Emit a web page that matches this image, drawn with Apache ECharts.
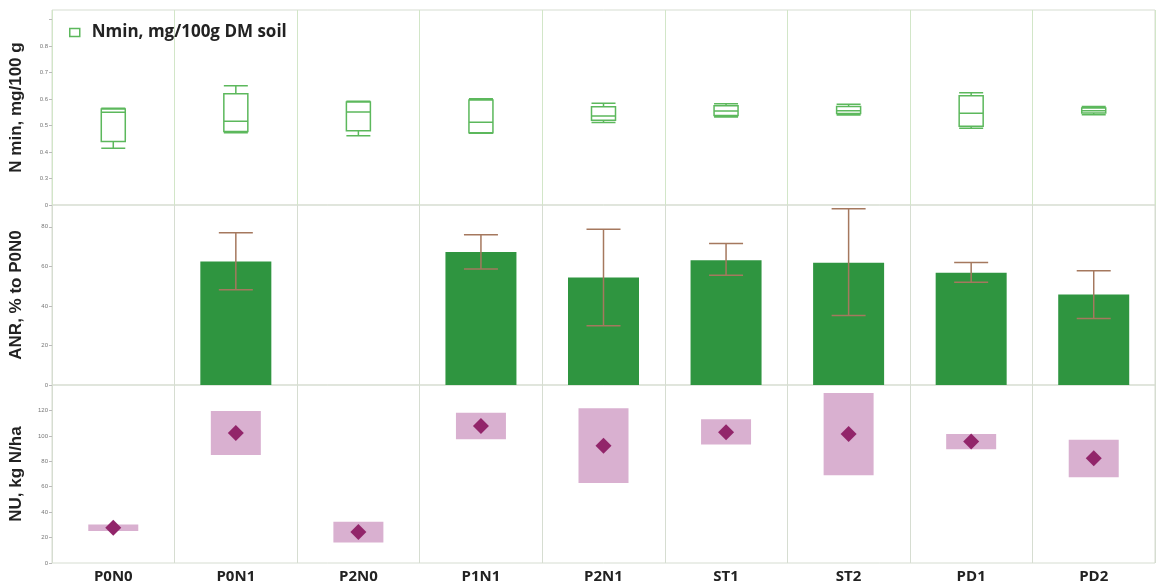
<!DOCTYPE html>
<html>
<head>
<meta charset="utf-8">
<script src="https://cdn.jsdelivr.net/npm/echarts@6/dist/echarts.min.js"></script>
<style>
  html, body { margin: 0; padding: 0; background: #fff; }
  #chart { width: 1157px; height: 587px; }
</style>
</head>
<body>
<div id="chart"></div>
<script>
const categories = ['P0N0', 'P0N1', 'P2N0', 'P1N1', 'P2N1', 'ST1', 'ST2', 'PD1', 'PD2']

// Nmin boxplot: [min, Q1, median, Q3, max]
const nminBox = [
  [0.414, 0.44, 0.55, 0.562, 0.565],
  [0.473, 0.477, 0.516, 0.62, 0.65],
  [0.461, 0.48, 0.551, 0.589, 0.592],
  [0.471, 0.473, 0.512, 0.596, 0.601],
  [0.511, 0.52, 0.536, 0.571, 0.584],
  [0.532, 0.538, 0.555, 0.575, 0.582],
  [0.54, 0.545, 0.556, 0.572, 0.58],
  [0.49, 0.497, 0.546, 0.612, 0.624],
  [0.541, 0.547, 0.556, 0.566, 0.572]
]

// ANR, % to P0N0
const anrMean = ['-', 62.4, '-', 67.2, 54.3, 63.1, 61.8, 56.7, 45.7]
const anrLow = ['-', 48.1, '-', 58.6, 30, 55.5, 35.1, 52, 33.6]
const anrHigh = ['-', 77, '-', 75.9, 78.8, 71.5, 89.1, 61.9, 57.8]

// NU, kg N/ha
const nuMean = [27.7, 102.2, 24.3, 107.7, 92.3, 102.9, 101.4, 95.6, 82.3]
const nuLow = [25.1, 84.9, 16.2, 97.3, 63, 93.3, 69, 89.4, 67.4]
const nuHigh = [30.3, 119.5, 32.4, 118.2, 121.8, 113.1, 133.8, 101.4, 97]

const boxGreen = '#5cb85c'
const barGreen = '#2f9540'
const errColor = '#a5785e'
const pink = '#d9b0d0'
const purple = '#92256a'
const gridLine = '#d6ddd1'

const chart = echarts.init(document.getElementById('chart'))

const yTick = { show: true, length: 3, lineStyle: { color: '#bbb' } }
const yLabel = { fontSize: 6, color: '#777', margin: 4 }
const yName = { fontFamily: 'Liberation Sans', fontWeight: 'bold', fontSize: 17, color: '#222' }

const xBase = (idx, showLabel, splitColor) => ({
  type: 'category',
  gridIndex: idx,
  data: categories,
  boundaryGap: true,
  axisLine: { show: false },
  axisTick: { show: false },
  axisLabel: showLabel
    ? { show: true, fontFamily: 'Open Sans', fontWeight: 'bold', fontSize: 15, color: '#222', margin: 6 }
    : { show: false },
  splitLine: { show: true, lineStyle: { color: splitColor, width: 1 } }
})

const errorBar = (params, api) => {
  const lo = api.value(1)
  const hi = api.value(2)
  if (isNaN(lo) || isNaN(hi)) return
  const pLo = api.coord([api.value(0), lo])
  const pHi = api.coord([api.value(0), hi])
  const half = 17
  const style = { stroke: errColor, lineWidth: 1.5 }
  return {
    type: 'group',
    children: [
      { type: 'line', shape: { x1: pLo[0], y1: pLo[1], x2: pHi[0], y2: pHi[1] }, style },
      { type: 'line', shape: { x1: pHi[0] - half, y1: pHi[1], x2: pHi[0] + half, y2: pHi[1] }, style },
      { type: 'line', shape: { x1: pLo[0] - half, y1: pLo[1], x2: pLo[0] + half, y2: pLo[1] }, style }
    ]
  }
}

const option = {
  animation: false,
  backgroundColor: '#fff',
  legend: {
    left: 64,
    top: 19,
    itemWidth: 10,
    itemHeight: 8,
    itemGap: 10,
    textStyle: { fontFamily: 'Open Sans', fontWeight: 'bold', fontSize: 17, color: '#222', padding: [0, 0, 0, 7] },
    data: [{ name: 'Nmin, mg/100g DM soil', icon: 'rect', itemStyle: { color: '#fff', borderColor: boxGreen, borderWidth: 1.5 } }]
  },
  grid: [
    { left: 48, right: 2, top: 10, height: 195, show: true, borderColor: gridLine, borderWidth: 1 },
    { left: 48, right: 2, top: 205, height: 180, show: true, borderColor: gridLine, borderWidth: 1 },
    { left: 48, right: 2, top: 385, height: 178, show: true, borderColor: gridLine, borderWidth: 1 }
  ],
  xAxis: [
    xBase(0, false, '#d2e6c8'),
    xBase(1, false, gridLine),
    xBase(2, true, gridLine)
  ],
  yAxis: [
    {
      type: 'value', gridIndex: 0, min: 0.2, max: 0.936, interval: 0.1,
      name: 'N min, mg/100 g', nameLocation: 'middle', nameGap: 27, nameTextStyle: yName,
      axisLine: { show: false }, axisTick: yTick, splitLine: { show: false },
      axisLabel: Object.assign({}, yLabel, {
        showMaxLabel: false,
        formatter: v => (v < 0.25 ? '0' : (v > 0.85 ? '' : v.toFixed(1)))
      })
    },
    {
      type: 'value', gridIndex: 1, min: 0, max: 91, interval: 20,
      name: 'ANR, % to P0N0', nameLocation: 'middle', nameGap: 27, nameTextStyle: yName,
      axisLine: { show: false }, axisTick: yTick, splitLine: { show: false },
      axisLabel: Object.assign({}, yLabel, { showMaxLabel: false, formatter: v => (v > 85 ? '' : v) })
    },
    {
      type: 'value', gridIndex: 2, min: 0, max: 140, interval: 20,
      name: 'NU, kg N/ha', nameLocation: 'middle', nameGap: 27, nameTextStyle: yName,
      axisLine: { show: false }, axisTick: yTick, splitLine: { show: false },
      axisLabel: Object.assign({}, yLabel, { showMaxLabel: false, formatter: v => (v > 130 ? '' : v) })
    }
  ],
  series: [
    {
      name: 'Nmin, mg/100g DM soil',
      type: 'boxplot',
      xAxisIndex: 0, yAxisIndex: 0,
      boxWidth: [24, 24],
      itemStyle: { color: '#fff', borderColor: boxGreen, borderWidth: 1.5 },
      data: nminBox
    },
    {
      name: 'ANR',
      type: 'bar',
      xAxisIndex: 1, yAxisIndex: 1,
      barWidth: 71,
      itemStyle: { color: barGreen },
      data: anrMean
    },
    {
      name: 'ANR error',
      type: 'custom',
      xAxisIndex: 1, yAxisIndex: 1,
      renderItem: errorBar,
      encode: { x: 0, y: [1, 2] },
      z: 5,
      data: categories.map((c, i) => [i, anrLow[i], anrHigh[i]])
    },
    {
      name: 'NU base',
      type: 'bar',
      xAxisIndex: 2, yAxisIndex: 2,
      stack: 'nu',
      barWidth: 50,
      itemStyle: { color: 'rgba(0,0,0,0)' },
      data: nuLow
    },
    {
      name: 'NU range',
      type: 'bar',
      xAxisIndex: 2, yAxisIndex: 2,
      stack: 'nu',
      barWidth: 50,
      itemStyle: { color: pink },
      data: nuHigh.map((h, i) => +(h - nuLow[i]).toFixed(2))
    },
    {
      name: 'NU',
      type: 'scatter',
      xAxisIndex: 2, yAxisIndex: 2,
      symbol: 'diamond',
      symbolSize: [16, 16],
      itemStyle: { color: purple, opacity: 1 },
      z: 5,
      data: nuMean
    }
  ]
}

chart.setOption(option)
</script>
</body>
</html>
